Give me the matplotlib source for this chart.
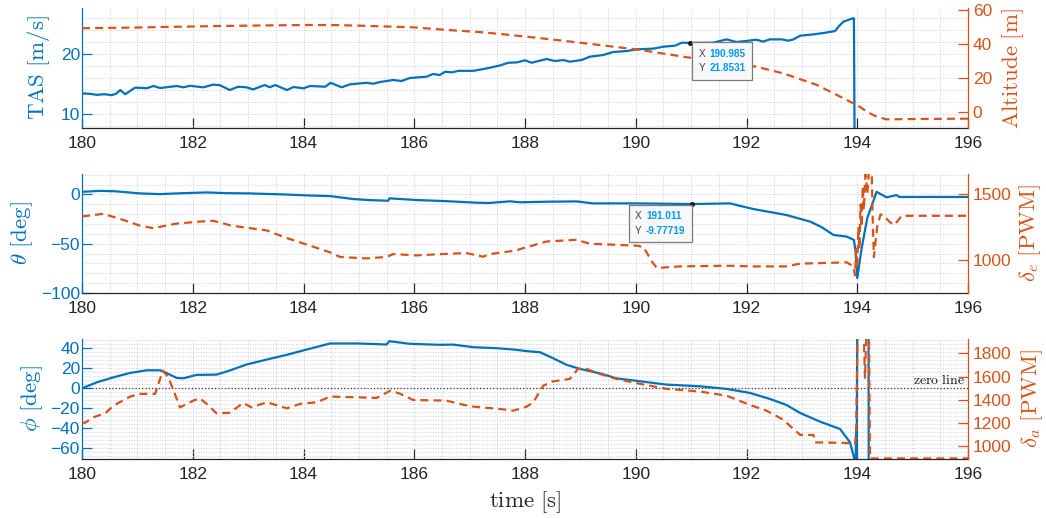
import matplotlib
matplotlib.use('Agg')
import matplotlib.pyplot as plt
from matplotlib.ticker import MultipleLocator, FixedLocator
from matplotlib.offsetbox import TextArea, HPacker, VPacker, AnnotationBbox

plt.rcParams['font.family'] = ['Liberation Sans', 'DejaVu Sans']
plt.rcParams['mathtext.fontset'] = 'cm'

BLUE = '#0072BD'
ORANGE = '#D95319'
DARK = '#262626'

# ---------------- data ----------------
t_tas = [180.00, 180.15, 180.27, 180.40, 180.54, 180.62, 180.69, 180.78, 180.96, 181.17,
         181.29, 181.41, 181.71, 181.83, 181.95, 182.19, 182.37, 182.49, 182.67, 182.82,
         182.97, 183.09, 183.30, 183.39, 183.49, 183.70, 183.82, 184.00, 184.12, 184.39,
         184.49, 184.69, 184.84, 185.14, 185.26, 185.38, 185.62, 185.77, 185.92, 186.22,
         186.34, 186.46, 186.56, 186.68, 186.80, 187.07, 187.31, 187.55, 187.70, 187.85,
         188.00, 188.12, 188.39, 188.54, 188.69, 188.81, 189.02, 189.17, 189.41, 189.59,
         189.84, 190.02, 190.32, 190.50, 190.71, 190.83, 190.985, 191.40, 191.64, 191.82,
         192.03, 192.18, 192.30, 192.42, 192.64, 192.75, 192.85, 192.97, 193.21, 193.39,
         193.60, 193.66, 193.75, 193.92, 193.94, 193.955]
tas = [13.45, 13.35, 13.2, 13.3, 13.15, 13.4, 14.0, 13.3, 14.4, 14.3,
       14.67, 14.33, 14.67, 14.45, 14.7, 14.45, 14.9, 14.8, 14.0, 14.55,
       14.45, 14.1, 14.83, 14.45, 14.83, 14.0, 14.5, 14.28, 14.67, 14.55,
       15.2, 14.45, 14.95, 15.2, 15.05, 15.33, 15.67, 15.5, 16.0, 16.22,
       16.67, 16.5, 17.05, 16.95, 17.2, 17.2, 17.6, 18.1, 18.55, 18.6,
       18.95, 18.55, 19.17, 18.83, 19.0, 18.72, 19.0, 19.55, 19.83, 20.33,
       20.5, 20.78, 20.9, 21.22, 21.39, 21.89, 21.8531, 21.89, 22.44, 22.0,
       22.22, 22.39, 22.06, 22.44, 22.44, 22.22, 22.44, 23.05, 23.28, 23.5,
       23.83, 24.55, 25.39, 25.95, 25.95, 0.0]

t_alt = [180.0, 180.5, 181.0, 181.43, 182.0, 182.5, 183.0, 183.5, 184.17, 184.6,
         185.0, 185.5, 185.98, 186.58, 187.19, 187.55, 188.03, 188.45, 189.35, 190.08,
         190.92, 191.5, 192.18, 192.66, 193.27, 193.81, 194.02, 194.2, 194.35, 194.53,
         195.07, 196.0]
alt = [49.2, 49.4, 49.6, 49.9, 50.2, 50.5, 50.7, 50.9, 51.1, 51.0,
       50.7, 50.2, 49.7, 48.2, 46.9, 45.8, 44.2, 42.7, 39.3, 36.4,
       32.1, 29.5, 26.5, 22.6, 15.8, 6.9, 3.4, -0.5, -2.9, -4.5,
       -4.3, -4.1]

t_theta = [180.0, 180.33, 180.6, 181.05, 181.41, 181.8, 182.25, 182.6, 183.03, 183.63,
           184.06, 184.48, 184.90, 185.2, 185.53, 185.55, 186.04, 186.52, 187.12, 187.35,
           187.73, 187.91, 188.39, 188.93, 189.23, 190.02, 191.011, 191.70, 192.12, 192.72,
           193.15, 193.35, 193.57, 193.81, 193.94, 193.97, 194.0, 194.08, 194.18, 194.35,
           194.53, 194.71, 194.76, 196.0]
theta = [2.6, 3.6, 3.2, 1.0, 0.3, 1.2, 2.0, 1.3, 1.0, 0.0,
         -1.0, -1.7, -4.7, -5.8, -6.4, -4.0, -5.7, -6.7, -8.4, -8.7,
         -7.0, -8.0, -7.4, -7.1, -9.1, -9.1, -9.77719, -9.1, -14.8, -20.9,
         -27.6, -33.0, -41.1, -42.8, -46.2, -58.0, -84.9, -54.5, -24.2, 2.6,
         -3.0, -0.7, -2.6, -2.6]

t_de = [180.0, 180.38, 180.7, 181.05, 181.29, 181.7, 182.13, 182.37, 182.7, 183.03,
        183.34, 183.70, 184.12, 184.48, 184.66, 185.14, 185.50, 185.62, 186.04, 186.5,
        186.94, 187.24, 187.37, 187.85, 187.91, 188.39, 188.93, 189.17, 190.02, 190.14,
        190.29, 190.38, 190.80, 191.64, 192.12, 192.72, 192.97, 193.81, 193.93, 193.96,
        193.98, 194.00, 194.02, 194.04, 194.06, 194.08, 194.10, 194.12, 194.15, 194.18,
        194.22, 194.26, 194.28, 194.30, 194.36, 194.42, 194.47, 194.58, 194.66, 194.72,
        194.80, 196.0]
de = [1330, 1350, 1310, 1259, 1241, 1275, 1291, 1297, 1260, 1241,
      1223, 1165, 1107, 1056, 1021, 1010, 1021, 1043, 1033, 1043,
      1051, 1023, 1043, 1071, 1081, 1139, 1152, 1122, 1107, 1097,
      987, 937, 949, 954, 949, 949, 970, 980, 949, 880,
      1080, 940, 1250, 1080, 1420, 1250, 1560, 1380, 1700, 1500,
      1720, 1700, 1300, 1020, 1250, 1345, 1340, 1290, 1265, 1290,
      1335, 1335]

t_phi = [180.0, 180.27, 180.57, 180.87, 181.17, 181.41, 181.50, 181.71, 181.83, 182.07,
         182.43, 182.67, 182.97, 183.34, 183.70, 184.06, 184.48, 185.0, 185.50, 185.55,
         185.92, 186.46, 186.7, 187.07, 187.49, 187.79, 188.06, 188.27, 188.51, 188.75,
         188.99, 189.35, 189.65, 190.08, 190.56, 191.16, 191.64, 192.06, 192.42, 192.72,
         192.97, 193.33, 193.69, 193.87, 193.97, 193.98, 193.99, 194.01, 194.20, 194.21,
         196.0]
phi = [0.0, 6.0, 11.0, 15.4, 18.0, 18.0, 16.0, 10.4, 10.0, 13.4,
       13.7, 17.8, 23.8, 28.8, 33.5, 38.8, 44.8, 44.8, 43.8, 47.1,
       44.5, 43.5, 43.7, 41.1, 40.1, 38.8, 37.0, 36.1, 30.0, 23.5,
       19.4, 15.0, 10.0, 7.0, 3.7, 2.0, -0.6, -4.6, -10.6, -16.6,
       -24.7, -33.4, -40.7, -54.1, -75.0, -40.0, -75.0, 200.0, 200.0, -200.0,
       -200.0]

t_da = [180.0, 180.05, 180.2, 180.42, 180.57, 180.87, 181.05, 181.32, 181.46, 181.56,
        181.77, 182.01, 182.13, 182.25, 182.43, 182.67, 182.91, 183.06, 183.34, 183.70,
        183.94, 184.24, 184.48, 184.96, 185.32, 185.57, 185.74, 185.98, 186.58, 187.01,
        187.55, 187.79, 188.03, 188.15, 188.33, 188.51, 188.81, 188.96, 189.11, 189.35,
        189.65, 190.08, 190.56, 191.16, 191.64, 192.06, 192.36, 192.66, 192.78, 192.97,
        193.21, 193.24, 193.81, 193.96, 193.98, 194.01, 194.11, 194.14, 194.17, 194.21,
        194.23, 196.0]
da = [1207, 1202, 1250, 1285, 1351, 1429, 1452, 1452, 1652, 1595,
      1336, 1394, 1414, 1366, 1285, 1290, 1374, 1337, 1380, 1328,
      1366, 1380, 1429, 1423, 1417, 1480, 1454, 1400, 1394, 1345,
      1322, 1308, 1342, 1380, 1523, 1560, 1581, 1667, 1667, 1624,
      1581, 1538, 1495, 1472, 1437, 1357, 1308, 1231, 1179, 1099,
      1099, 1035, 1030, 1020, 1120, 2100, 2100, 1590, 2100, 2100,
      897, 897]

x_ticks = [180, 182, 184, 186, 188, 190, 192, 194, 196]
tas_ticks = [10, 20]
alt_ticks = [0, 20, 40, 60]
theta_ticks = [-100, -50, 0]
de_ticks = [1000, 1500]
phi_ticks = [-60, -40, -20, 0, 20, 40]
da_ticks = [1000, 1200, 1400, 1600, 1800]

tip_tas = (190.985, 21.8531)
tip_theta = (191.011, -9.77719)

# ---------------- figure ----------------
W, H = 1046, 518
fig = plt.figure(figsize=(W / 100, H / 100), dpi=100)


def rect(l, t, r, b):
    return [l / W, 1 - b / H, (r - l) / W, (b - t) / H]


def make_panel(pos, ylim_l, ylim_r, yt_l, yt_r, minor_l):
    ax = fig.add_axes(rect(*pos))
    ax2 = ax.twinx()
    ax.set_xlim(180, 196)
    ax.xaxis.set_major_locator(FixedLocator(x_ticks))
    ax.xaxis.set_minor_locator(MultipleLocator(0.5))
    ax.set_ylim(*ylim_l)
    ax2.set_ylim(*ylim_r)
    ax.yaxis.set_major_locator(FixedLocator(yt_l))
    ax.yaxis.set_minor_locator(MultipleLocator(minor_l))
    ax2.yaxis.set_major_locator(FixedLocator(yt_r))
    for s in ('top', 'right'):
        ax.spines[s].set_visible(False)
    for s in ('top', 'left', 'bottom'):
        ax2.spines[s].set_visible(False)
    ax.spines['left'].set_color(BLUE)
    ax.spines['bottom'].set_color(DARK)
    ax2.spines['right'].set_color(ORANGE)
    for sp in (ax.spines['left'], ax.spines['bottom'], ax2.spines['right']):
        sp.set_linewidth(0.9)
    ax.tick_params(axis='y', which='major', direction='in', colors=BLUE,
                   length=7, width=0.9, labelsize=12.5, pad=1.5)
    ax.tick_params(axis='x', which='major', direction='in', color=DARK,
                   labelcolor=DARK, length=7, width=0.9, labelsize=12.5, pad=5.5)
    ax.tick_params(which='minor', length=0)
    ax2.tick_params(axis='y', which='major', direction='in', colors=ORANGE,
                    length=7, width=0.9, labelsize=12.5, pad=3.5)
    ax.grid(which='both', linestyle=':', color='#c9cfd6', linewidth=0.7)
    ax.set_axisbelow(True)
    return ax, ax2


solid = dict(color=BLUE, lw=1.6, solid_joinstyle='round')
dashed = dict(color=ORANGE, lw=1.6, linestyle=(0, (3.6, 2.3)))

ax1, ax1r = make_panel((82, 8, 968, 128), (7.67, 27.67), (-9.6, 61.1),
                       tas_ticks, alt_ticks, 2)
ax1.plot(t_tas, tas, **solid)
ax1r.plot(t_alt, alt, **dashed)

ax2, ax2r = make_panel((82, 174, 968, 293), (-100, 20.7), (746, 1654),
                       theta_ticks, de_ticks, 10)
ax2.plot(t_theta, theta, **solid)
ax2r.plot(t_de, de, **dashed)

ax3, ax3r = make_panel((82, 339, 968, 459), (-70.7, 49.3), (892, 1924),
                       phi_ticks, da_ticks, 4)
ax3.plot(t_phi, phi, **solid)
ax3r.plot(t_da, da, **dashed)
ax3.axhline(0, color='#333333', linestyle=':', linewidth=0.9, zorder=1.5)
ax3r.text(195.95, 1.5, r'$\mathrm{zero\ line}$', transform=ax3.transData,
          ha='right', va='bottom', fontsize=10, color='#111111')

# axis labels
lab = dict(fontsize=16.5)
ax1.set_ylabel(r'$\mathrm{TAS\ [m/s]}$', color=BLUE, **lab)
ax1r.set_ylabel(r'$\mathrm{Altitude\ [m]}$', color=ORANGE, rotation=90, **lab)
ax2.set_ylabel(r'$\theta\ [\mathrm{deg}]$', color=BLUE, **lab)
ax2r.set_ylabel(r'$\delta_e\ [\mathrm{PWM}]$', color=ORANGE, rotation=90, **lab)
ax3.set_ylabel(r'$\phi\ [\mathrm{deg}]$', color=BLUE, **lab)
ax3.set_xlabel(r'$\mathrm{time\ [s]}$', color=DARK, **lab)
ax3r.set_ylabel(r'$\delta_a\ [\mathrm{PWM}]$', color=ORANGE, rotation=90, **lab)

ax1.yaxis.set_label_coords(-0.034, 0.5)
ax2.yaxis.set_label_coords(-0.053, 0.5)
ax3.yaxis.set_label_coords(-0.042, 0.5)
ax1r.yaxis.set_label_coords(1.036, 0.5)
ax2r.yaxis.set_label_coords(1.056, 0.5)
ax3r.yaxis.set_label_coords(1.058, 0.5)
ax3.xaxis.set_label_coords(0.5, -0.25)


def datatip(ax, xy, align, offset):
    rows = []
    for key, val in (('X', xy[0]), ('Y', xy[1])):
        rows.append(HPacker(children=[
            TextArea(key, textprops=dict(color='#404040', size=7.2)),
            TextArea(f'{val:g}', textprops=dict(color='#0099FF', size=7.2,
                                                weight='bold'))],
            sep=3, pad=0, align='baseline'))
    pack = VPacker(children=rows, sep=3.5, pad=0, align='left')
    ab = AnnotationBbox(pack, xy, xycoords=ax.transData, xybox=offset,
                        boxcoords='offset points', box_alignment=align,
                        frameon=True, fontsize=10, annotation_clip=False,
                        bboxprops=dict(boxstyle='square,pad=0.45', ec='#7a7a7a',
                                       fc='#f8f8fb', lw=0.9))
    ab.set_zorder(20)
    fig.add_artist(ab)
    ax.plot([xy[0]], [xy[1]], marker='o', ms=2.6, color='#1a1a1a', zorder=5)


datatip(ax1, tip_tas, (0, 1), (5.8, -4.1))
datatip(ax2, tip_theta, (1, 1), (-4.6, -4.9))

fig.savefig('out.png', dpi=100)
